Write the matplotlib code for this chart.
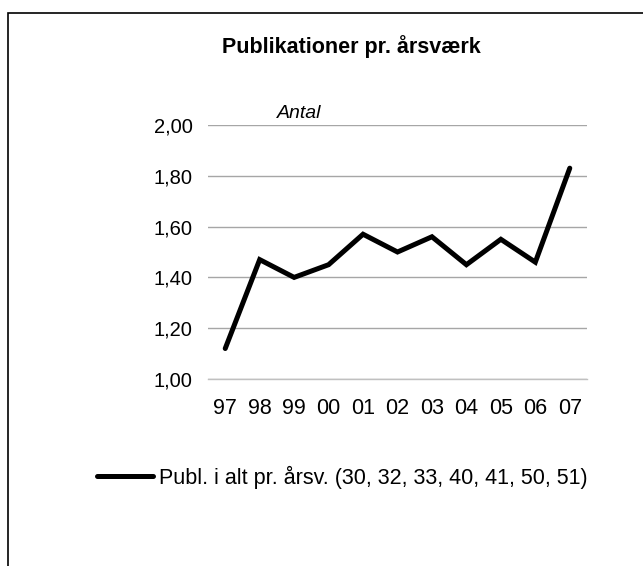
import matplotlib
matplotlib.use("Agg")
import matplotlib.pyplot as plt
from matplotlib.patches import Rectangle
from matplotlib.ticker import FixedLocator

plt.rcParams['font.family'] = ['Liberation Sans', 'DejaVu Sans']

years = ["97", "98", "99", "00", "01", "02", "03", "04", "05", "06", "07"]
values = [1.12, 1.47, 1.40, 1.45, 1.57, 1.50, 1.56, 1.45, 1.55, 1.46, 1.83]
series_label = "Publ. i alt pr. årsv. (30, 32, 33, 40, 41, 50, 51)"
title = "Publikationer pr. årsværk"
unit_label = "Antal"
yticks = [1.0, 1.2, 1.4, 1.6, 1.8, 2.0]

W, H = 643, 566
fig = plt.figure(figsize=(W / 100, H / 100), dpi=100)

# chart-area border (top and left visible)
fig.patches.append(Rectangle((8 / W, -0.2), 1.5, 1 - 13 / H + 0.2,
                             transform=fig.transFigure, fill=False,
                             edgecolor='black', linewidth=1.2))

ax = fig.add_axes([208 / W, 1 - 379 / H, (587 - 208) / W, (379 - 125) / H])
x = list(range(len(years)))
ax.plot(x, values, color='black', linewidth=3.6, solid_joinstyle='miter',
        solid_capstyle='round', label=series_label, zorder=3)

ax.set_xlim(-0.5, len(years) - 0.5)
ax.set_ylim(1.0, 2.0)
ax.yaxis.set_major_locator(FixedLocator(yticks))
ax.set_yticklabels([f"{v:.2f}".replace('.', ',') for v in yticks])
ax.set_xticks(x)
ax.set_xticklabels(years)
ax.grid(axis='y', color='#a6a6a6', linewidth=1)
ax.set_axisbelow(True)
for s in ['top', 'right', 'left']:
    ax.spines[s].set_visible(False)
ax.spines['bottom'].set_color('#c0c0c0')
ax.spines['bottom'].set_linewidth(1)
ax.tick_params(axis='y', length=0, labelsize=14.5, colors='black', pad=11)
ax.tick_params(axis='x', length=0, labelsize=15.5, colors='black', pad=14)

fig.text(351 / W, 1 - 47 / H, title, ha='center', va='center',
         fontsize=15.5, fontweight='bold')
fig.text(277 / W, 1 - 114 / H, unit_label, ha='left', va='center',
         fontsize=14, style='italic')

fig.legend(loc='center left', bbox_to_anchor=(97 / W, 1 - 477 / H),
           frameon=False, fontsize=15.5, handlelength=2.6, handletextpad=0.3,
           borderpad=0, borderaxespad=0)

fig.savefig("out.png", dpi=100)
